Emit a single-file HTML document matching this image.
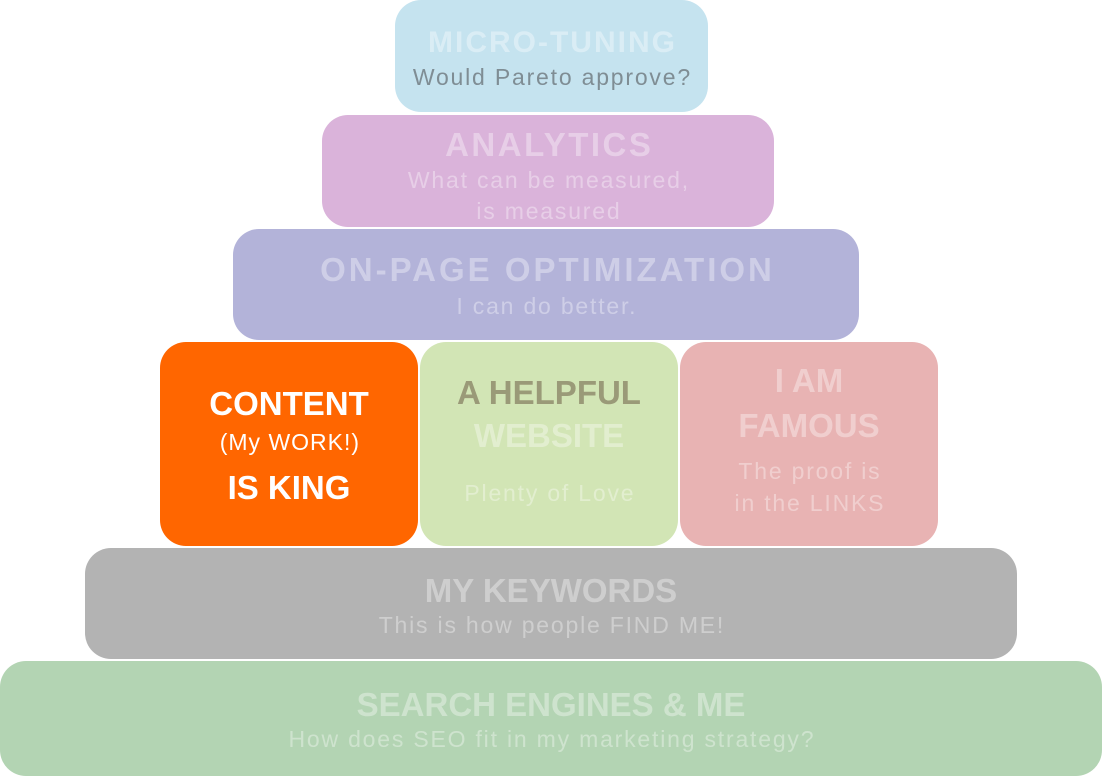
<!DOCTYPE html>
<html><head><meta charset="utf-8"><style>
body{margin:0;width:1102px;height:776px;background:#fff;position:relative;overflow:hidden;font-family:"Liberation Sans",sans-serif}
.b{position:absolute;border-radius:26px}
.t{position:absolute;left:0;right:0;text-align:center;white-space:nowrap;line-height:1}
.h{font-weight:bold;font-size:33px}
.s{font-size:23px;letter-spacing:1.8px;padding-left:1.8px}
.l{color:rgba(255,255,255,0.36)}
</style></head><body>
<div class="b" style="left:395px;top:0;width:313px;height:112px;background:#c5e3ef">
 <div class="t h l" style="top:28px;font-size:30px;letter-spacing:2px;padding-left:2px">MICRO-TUNING</div>
 <div class="t s" style="top:66px;color:#7f8d94">Would Pareto approve?</div>
</div>
<div class="b" style="left:322px;top:115px;width:452px;height:112px;background:#dab3da">
 <div class="t h l" style="top:13px;letter-spacing:2.5px;padding-left:2.5px">ANALYTICS</div>
 <div class="t s l" style="top:54px">What can be measured,</div>
 <div class="t s l" style="top:85px">is measured</div>
</div>
<div class="b" style="left:233px;top:229px;width:626px;height:111px;background:#b3b3d9">
 <div class="t h l" style="top:24px;letter-spacing:3px;padding-left:3px">ON-PAGE OPTIMIZATION</div>
 <div class="t s l" style="top:66px">I can do better.</div>
</div>
<div class="b" style="left:160px;top:342px;width:258px;height:204px;background:#ff6600;color:#fff">
 <div class="t h" style="top:45px">CONTENT</div>
 <div class="t s" style="top:89px;letter-spacing:1px">(My WORK!)</div>
 <div class="t h" style="top:129px">IS KING</div>
</div>
<div class="b" style="left:420px;top:342px;width:258px;height:204px;background:#d2e5b5">
 <div class="t h" style="top:34px;color:#9a9a78">A HELPFUL</div>
 <div class="t h l" style="top:77px">WEBSITE</div>
 <div class="t s l" style="top:140px">Plenty of Love</div>
</div>
<div class="b" style="left:680px;top:342px;width:258px;height:204px;background:#e8b3b3">
 <div class="t h l" style="top:22px">I AM</div>
 <div class="t h l" style="top:67px">FAMOUS</div>
 <div class="t s l" style="top:118px">The proof is</div>
 <div class="t s l" style="top:150px">in the LINKS</div>
</div>
<div class="b" style="left:85px;top:548px;width:932px;height:111px;background:#b3b3b3">
 <div class="t h l" style="top:26px">MY KEYWORDS</div>
 <div class="t s l" style="top:66px">This is how people FIND ME!</div>
</div>
<div class="b" style="left:0;top:661px;width:1102px;height:115px;background:#b3d4b3">
 <div class="t h l" style="top:27px">SEARCH ENGINES &amp; ME</div>
 <div class="t s l" style="top:67px">How does SEO fit in my marketing strategy?</div>
</div>
</body></html>
